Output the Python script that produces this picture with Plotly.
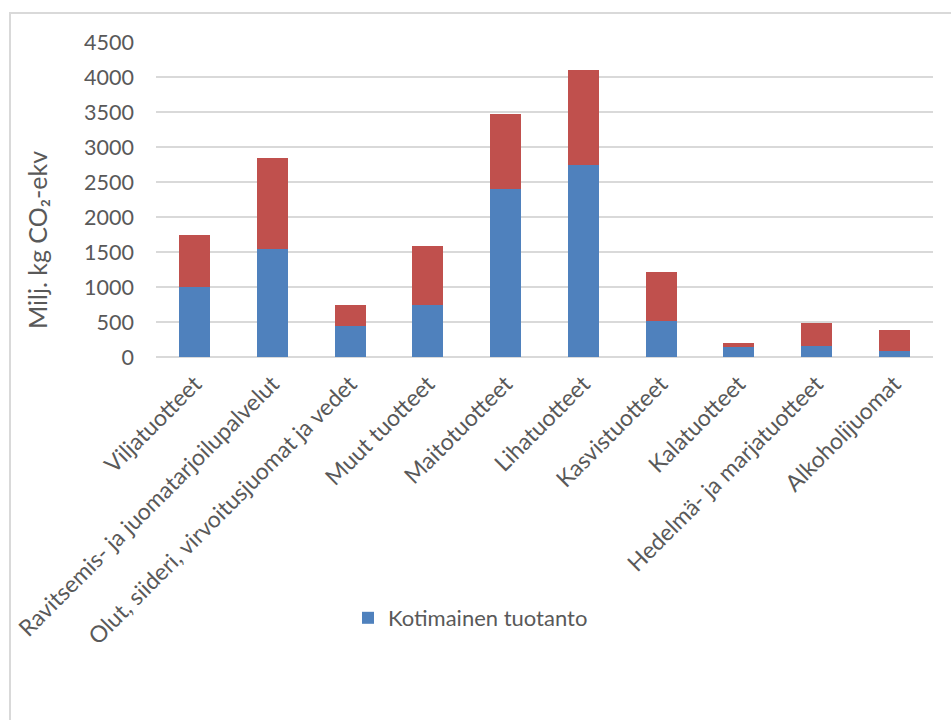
import plotly.graph_objects as go

# Food product groups
categories = [
    "Viljatuotteet",
    "Ravitsemis- ja juomatarjoilupalvelut",
    "Olut, siideri, virvoitusjuomat ja vedet",
    "Muut tuotteet",
    "Maitotuotteet",
    "Lihatuotteet",
    "Kasvistuotteet",
    "Kalatuotteet",
    "Hedelmä- ja marjatuotteet",
    "Alkoholijuomat",
]

# Emissions, million kg CO2-eq
kotimainen = [1000, 1550, 440, 750, 2400, 2740, 510, 150, 155, 80]
tuonti = [740, 1290, 300, 840, 1070, 1360, 710, 55, 335, 310]

y_ticks = [0, 500, 1000, 1500, 2000, 2500, 3000, 3500, 4000, 4500]

FONT = "Lato, Carlito, Calibri, sans-serif"
TEXT = "#595959"
GRID = "#D9D9D9"

W, H = 951, 720
L, R, T, B = 156, 18, 42, 363
PW, PH = W - L - R, H - T - B


def px_x(px):
    return (px - L) / PW


def px_y(py):
    return (H - B - py) / PH


fig = go.Figure()
fig.add_trace(go.Bar(
    x=categories, y=kotimainen, name="Kotimainen tuotanto",
    marker=dict(color="#4F81BD", line=dict(width=0)),
))
fig.add_trace(go.Bar(
    x=categories, y=tuonti, name="Tuonti", showlegend=False,
    marker=dict(color="#C0504D", line=dict(width=0)),
))

fig.update_layout(
    width=W, height=H,
    margin=dict(l=L, r=R, t=T, b=B, autoexpand=False),
    barmode="stack",
    bargap=0.6,
    plot_bgcolor="white",
    paper_bgcolor="white",
    font=dict(family=FONT, color=TEXT, size=21),
    showlegend=True,
    legend=dict(
        orientation="h", x=px_x(348), y=px_y(618), xanchor="left", yanchor="middle",
        font=dict(size=22, color=TEXT, family=FONT), itemwidth=30,
        bgcolor="rgba(0,0,0,0)",
    ),
    xaxis=dict(
        tickangle=-45, showgrid=False, showline=False, zeroline=False,
        tickfont=dict(size=23, color=TEXT, family=FONT),
        ticks="", ticklabelstandoff=8,
    ),
    yaxis=dict(
        range=[0, 4500], tickvals=y_ticks, ticktext=[str(v) for v in y_ticks],
        showgrid=True, gridcolor=GRID, gridwidth=2,
        zeroline=True, zerolinecolor=GRID, zerolinewidth=2,
        showline=False, ticks="", ticklabelstandoff=21,
        tickfont=dict(size=21.5, color=TEXT, family=FONT),
    ),
    annotations=[dict(
        text="Milj. kg CO₂-ekv", xref="paper", yref="paper",
        x=px_x(37), y=px_y(240), textangle=-90, showarrow=False,
        xanchor="center", yanchor="middle",
        font=dict(size=25, color=TEXT, family=FONT),
    )],
    shapes=[dict(
        type="rect", xref="paper", yref="paper",
        x0=px_x(10), x1=px_x(980), y0=px_y(760), y1=px_y(13),
        line=dict(color=GRID, width=2), fillcolor="rgba(0,0,0,0)", layer="below",
    )],
)

fig.write_html("out.html")
